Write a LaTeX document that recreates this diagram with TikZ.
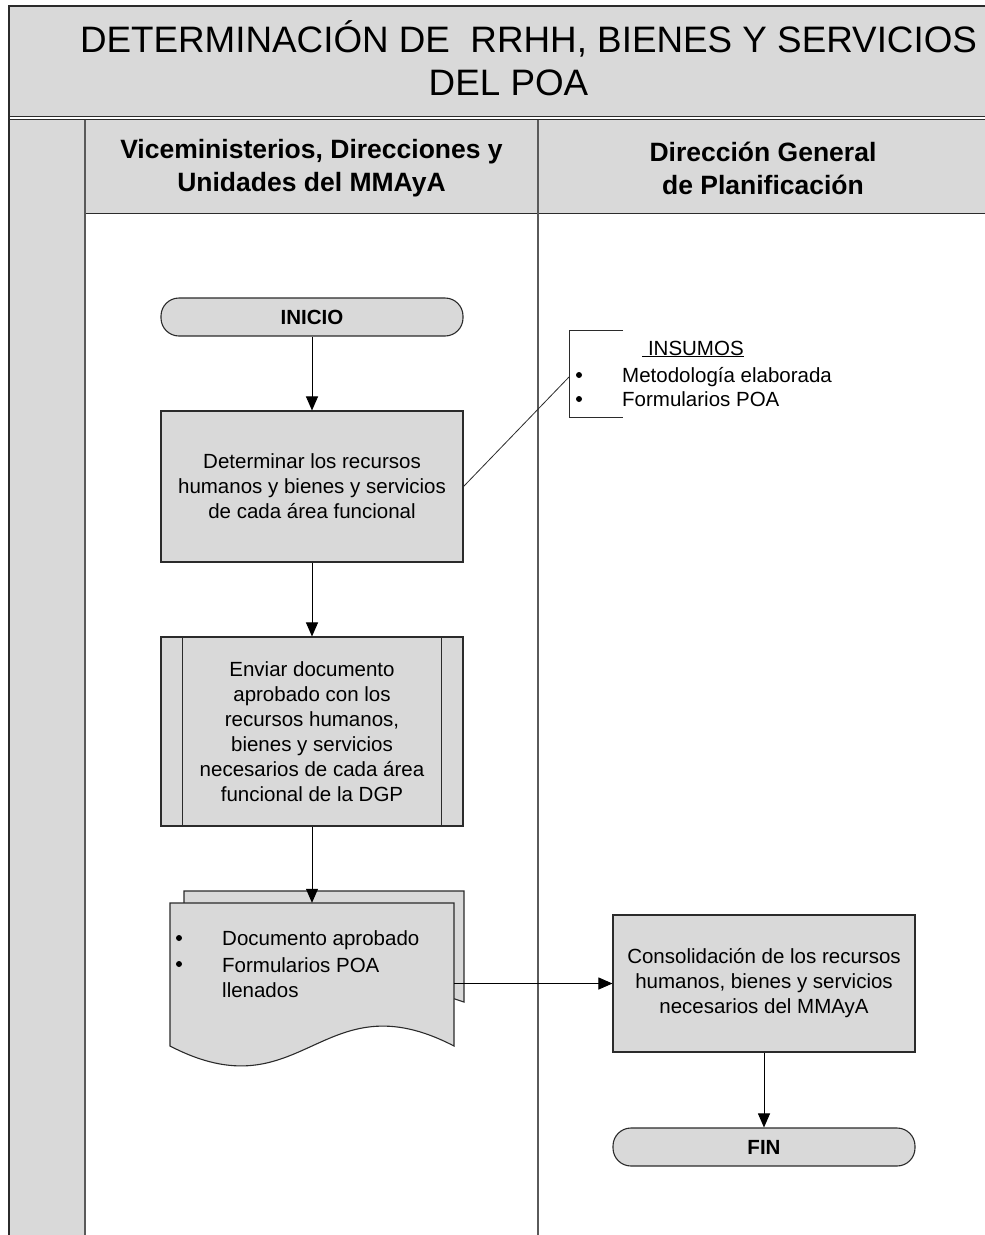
\documentclass[tikz,border=0pt]{standalone}
\usepackage{fontspec}
\setmainfont{Liberation Sans}
\usetikzlibrary{arrows.meta}
\definecolor{boxgray}{HTML}{D9D9D9}
\definecolor{lanegray}{HTML}{5A5A5A}
\definecolor{edge}{HTML}{2B2B2B}
\tikzset{
  box/.style={draw=edge, line width=1.1pt, fill=boxgray, minimum width=302pt, align=center, inner sep=0pt, font=\fontsize{20.5}{25}\selectfont},
  term/.style={box, rounded corners=18pt, minimum height=38pt, font=\bfseries\fontsize{20.5}{25}\selectfont},
  flow/.style={draw=black, line width=1pt, -{Triangle[length=14pt,width=12pt]}},
  lane/.style={draw=lanegray, line width=2.2pt},
  body/.style={inner sep=0pt, font=\fontsize{20.5}{25}\selectfont},
  bullet/.style={circle, fill=black, inner sep=0pt, minimum size=6pt},
  hdr/.style={align=center, inner sep=0pt, font=\bfseries\fontsize{26.5}{33}\selectfont},
  titletext/.style={inner sep=0pt, anchor=base, font=\fontsize{36.8}{43}\selectfont},
  thin/.style={draw=edge, line width=0.8pt},
}
\begin{document}
\begin{tikzpicture}[x=1pt,y=-1pt]
\useasboundingbox (0,0) rectangle (985,1235);
\fill[white] (0,0) rectangle (985,1235);
% pool background
\fill[boxgray] (9,6) rectangle (990,117);
\fill[boxgray] (9,119) rectangle (990,213);
\fill[boxgray] (9,213) rectangle (85,1240);
\draw[edge, line width=1.2pt] (9,1240) -- (9,6) -- (990,6);
\draw[edge, line width=1pt] (9,116.5) -- (990,116.5);
\draw[edge, line width=1pt] (9,119.5) -- (990,119.5);
\draw[edge, line width=1pt] (85,213) -- (990,213);
\draw[lane] (85,119.5) -- (85,1240);
\draw[lane] (538,119.5) -- (538,1240);
% titles
\node[titletext] (title1) at (528.5,52) {DETERMINACIÓN DE~ RRHH, BIENES Y SERVICIOS};
\node[titletext] (title2) at (508.5,95) {DEL POA};
\node[hdr] (h1) at (311.5,168) {Viceministerios, Direcciones y\\Unidades del MMAyA};
\node[hdr] (h2) at (763,168) {Dirección General\\de Planificación};
% flow nodes
\node[term] (ini) at (312,317) {INICIO};
\node[box, minimum height=151pt] (b1) at (312,486.5) {Determinar los recursos\\humanos y bienes y servicios\\de cada área funcional};
\node[box, minimum height=189pt] (b2) at (312,731.5) {Enviar documento\\aprobado con los\\recursos humanos,\\bienes y servicios\\necesarios de cada área\\funcional de la DGP};
\draw[edge, line width=1.1pt] ([xshift=22pt]b2.north west) -- ([xshift=22pt]b2.south west);
\draw[edge, line width=1.1pt] ([xshift=-22.5pt]b2.north east) -- ([xshift=-22.5pt]b2.south east);
% multi document
\draw[edge, line width=1.1pt, fill=boxgray] (184,960) -- (184,891) -- (464,891) -- (464,1002) -- (440,994) -- (184,994) -- cycle;
\draw[edge, line width=1.1pt, fill=boxgray] (170,1046) -- (170,903) -- (454,903) -- (454,1046) .. controls (321,977) and (303,1115) .. (170,1046) -- cycle;
\node[minimum width=284pt, minimum height=143pt, inner sep=0pt] (doc) at (312,974.5) {};
\node[bullet] (d1b) at (179,938) {};
\node[bullet] (d2b) at (179,964) {};
\node[body, anchor=base west] (d1) at (222,945) {Documento aprobado};
\node[body, anchor=base west] (d2) at (222,972) {Formularios POA};
\node[body, anchor=base west] (d3) at (222,997) {llenados};
\node[box, minimum height=137pt] (c1) at (764,983.5) {Consolidación de los recursos\\humanos, bienes y servicios\\necesarios del MMAyA};
\node[term] (fin) at (764,1147) {FIN};
% insumos annotation
\draw[thin] (623,330) -- (569,330) -- (569,417) -- (623,417);
\coordinate (insb) at (569,377);
\node[body, anchor=base] (ins0) at (693,355) {\underline{\ INSUMOS}};
\node[bullet] (i1b) at (579,375) {};
\node[bullet] (i2b) at (579,399) {};
\node[body, anchor=base west] (i1) at (622,382) {Metodología elaborada};
\node[body, anchor=base west] (i2) at (622,406) {Formularios POA};
\draw[thin] (b1.east) -- (insb);
% connectors
\draw[flow] (ini) -- (b1);
\draw[flow] (b1) -- (b2);
\draw[flow] (b2) -- (doc);
\draw[flow] (doc.east |- c1.west) -- (c1.west);
\draw[flow] (c1) -- (fin);
\end{tikzpicture}
\end{document}
